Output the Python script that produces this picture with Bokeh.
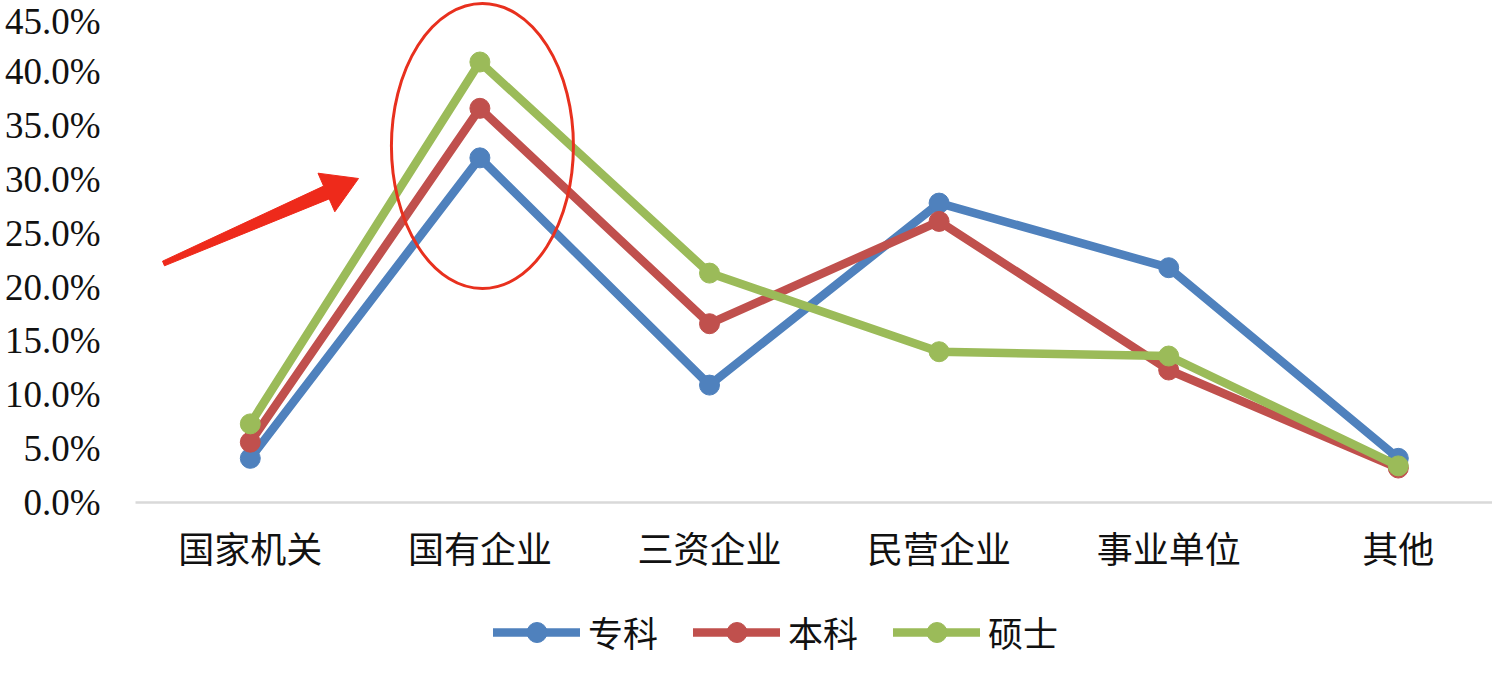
from bokeh.plotting import figure
from bokeh.layouts import column
from bokeh.models import Range1d, FixedTicker, PrintfTickFormatter, Legend, LegendItem
from bokeh.embed import file_html
from bokeh.resources import INLINE

# ---- data ----
categories = ["国家机关", "国有企业", "三资企业", "民营企业", "事业单位", "其他"]
zhuanke = [4.1, 32.0, 10.9, 27.8, 21.8, 4.1]
benke = [5.6, 36.6, 16.6, 26.1, 12.3, 3.2]
shuoshi = [7.3, 40.9, 21.3, 14.0, 13.6, 3.4]
series_names = ["专科", "本科", "硕士"]
series_values = [zhuanke, benke, shuoshi]
series_colors = ["#4F81BD", "#C0504D", "#9BBB59"]
y_ticks = [0, 5, 10, 15, 20, 25, 30, 35, 40, 45]

CJK = "Noto Sans CJK SC"
LW = 8.5
MS = 20
xs = [i + 0.5 for i in range(len(categories))]

p = figure(frame_width=1357, frame_height=502, output_backend="svg", toolbar_location=None,
           x_range=Range1d(0, 1357 / 229.6), y_range=Range1d(0, 502 / 10.77),
           min_border_left=135, min_border_right=0, min_border_top=0,
           min_border_bottom=90)
p.outline_line_color = None
p.xgrid.visible = False
p.ygrid.visible = False
p.background_fill_color = "white"
p.border_fill_color = "white"

# x axis
xa = p.xaxis[0]
xa.ticker = FixedTicker(ticks=xs)
xa.major_label_overrides = {x: c for x, c in zip(xs, categories)}
xa.axis_line_color = "#D9D9D9"
xa.axis_line_width = 2.5
xa.major_tick_line_color = None
xa.minor_tick_line_color = None
xa.major_label_standoff = 12
xa.major_label_text_font = CJK
xa.major_label_text_font_size = "36px"
xa.major_label_text_color = "#111111"

# y axis
ya = p.yaxis[0]
ya.ticker = FixedTicker(ticks=y_ticks)
ya.formatter = PrintfTickFormatter(format="%.1f%%")
ya.axis_line_color = None
ya.major_tick_line_color = None
ya.minor_tick_line_color = None
ya.major_label_standoff = 29
ya.major_label_text_font = "Liberation Serif"
ya.major_label_text_font_size = "37px"
ya.major_label_text_color = "#111111"

for vals, col in zip(series_values, series_colors):
    p.line(xs, vals, line_color=col, line_width=LW, line_join="round", line_cap="round")
    p.scatter(xs, vals, size=MS, fill_color=col, line_color=col, line_width=1)

# annotation: ellipse around 国有企业 peak
p.ellipse(x=[1.511], y=[33.1], width=182, height=285, width_units="screen",
          height_units="screen", fill_color=None, line_color="#E8301E", line_width=3)

# annotation: tapered red arrow (defined in pixel space, mapped to data space)
def to_data(px, py):
    return (px - 137) / 229.6, (502 - py) / 10.77

arrow_px = [(164, 260.7), (325.1, 185.6), (319.5, 172.7), (360, 178),
            (336.3, 211.3), (330.7, 198.4), (166, 265.3)]
ax_, ay_ = zip(*[to_data(a, b) for a, b in arrow_px])
p.patch(list(ax_), list(ay_), fill_color="#EE2A1B", line_color="#EE2A1B", line_width=1,
        line_join="round")

# ---- legend strip below the chart (series drawn off-range, only legend shows) ----
lg = figure(width=1492, height=83, output_backend="svg", toolbar_location=None,
            x_axis_type=None, y_axis_type=None,
            x_range=Range1d(1000, 1001), y_range=Range1d(1000, 1001),
            min_border_left=0, min_border_right=0, min_border_top=0, min_border_bottom=0)
lg.outline_line_color = None
lg.xgrid.visible = False
lg.ygrid.visible = False
items = []
for name, vals, col in zip(series_names, series_values, series_colors):
    lr = lg.line(xs, vals, line_color=col, line_width=LW, line_cap="round")
    sr = lg.scatter(xs, vals, size=MS, fill_color=col, line_color=col, line_width=1)
    items.append(LegendItem(label=name, renderers=[lr, sr], index=0))

legend = Legend(items=items, orientation="horizontal", location=(358, 18),
                glyph_width=87, glyph_height=50, label_standoff=8, spacing=35,
                padding=0, margin=0, border_line_alpha=0, background_fill_alpha=0,
                label_text_font=CJK, label_text_font_size="35px",
                label_text_color="#111111")
lg.add_layout(legend, "center")

layout = column(p, lg, spacing=0)
open("out.html", "w").write(file_html(layout, INLINE))
